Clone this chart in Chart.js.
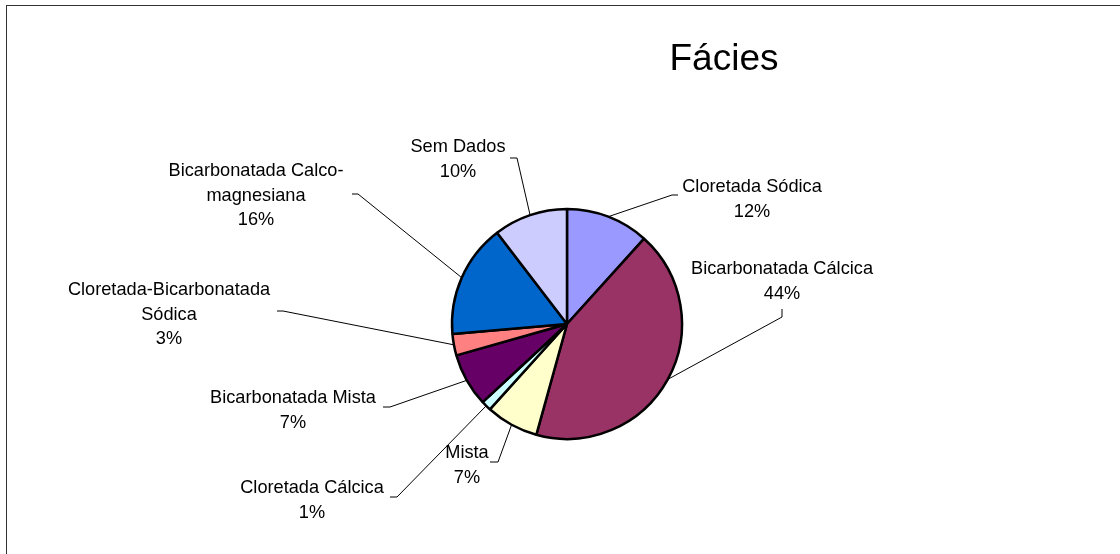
<!DOCTYPE html>
<html>
<head>
<meta charset="utf-8">
<script src="https://cdn.jsdelivr.net/npm/chart.js"></script>
<style>
  body { margin: 0; background: #fff; }
  #wrap { width: 1120px; height: 554px; position: relative; }
</style>
</head>
<body>
<div id="wrap"><canvas id="faciesCanvas"></canvas></div>
<script>
var categories = ['Cloretada Sódica', 'Bicarbonatada Cálcica', 'Mista', 'Cloretada Cálcica',
  'Bicarbonatada Mista', ['Cloretada-Bicarbonatada', 'Sódica'], ['Bicarbonatada Calco-', 'magnesiana'], 'Sem Dados'];
var shares = [11.7, 42.6, 7.4, 1.4, 7.5, 3.0, 16.0, 10.4];
var pctLabels = ['12%', '44%', '7%', '1%', '7%', '3%', '16%', '10%'];
var colors = ['#9999FF', '#993366', '#FFFFCC', '#CCFFFF', '#660066', '#FF8080', '#0066CC', '#CCCCFF'];

// where each label sits and where its leader line bends (page pixels)
var labelPos = [
  { cx: 752, cy: 187, elbow: [672, 195], end: [678, 195] },
  { cx: 782, cy: 269, elbow: [782, 317], end: [782, 309] },
  { cx: 467, cy: 453, elbow: [498, 462], end: [490, 462] },
  { cx: 312, cy: 488, elbow: [397, 497], end: [390, 497] },
  { cx: 293, cy: 398, elbow: [390, 407], end: [383, 407] },
  { cx: 169, cy: 290, elbow: [283, 311], end: [277, 311] },
  { cx: 256, cy: 171, elbow: [358, 194], end: [352, 194] },
  { cx: 458, cy: 147, elbow: [517, 158], end: [510, 158] }
];

var labelFont = '18.2px "Liberation Sans", Arial, sans-serif';
var lineGap = 24.5;

var faciesLabels = {
  id: 'faciesLabels',
  afterDraw: function(chart) {
    var ctx = chart.ctx;
    var arcs = chart.getDatasetMeta(0).data;
    ctx.save();

    // outer frame
    ctx.strokeStyle = '#333';
    ctx.lineWidth = 1;
    ctx.strokeRect(6.5, 5.5, 1200, 700);

    // title
    ctx.fillStyle = '#000';
    ctx.font = '37px "Liberation Sans", Arial, sans-serif';
    ctx.textAlign = 'center';
    ctx.textBaseline = 'alphabetic';
    ctx.fillText('Fácies', 724, 70);

    ctx.font = labelFont;
    ctx.textBaseline = 'middle';
    arcs.forEach(function(arc, i) {
      var p = labelPos[i];
      var mid = (arc.startAngle + arc.endAngle) / 2;
      var sx = arc.x + Math.cos(mid) * arc.outerRadius;
      var sy = arc.y + Math.sin(mid) * arc.outerRadius;

      ctx.strokeStyle = '#000';
      ctx.lineWidth = 1;
      ctx.beginPath();
      ctx.moveTo(sx, sy);
      ctx.lineTo(p.elbow[0], p.elbow[1]);
      ctx.lineTo(p.end[0], p.end[1]);
      ctx.stroke();

      var lines = [].concat(categories[i]);
      lines.push(pctLabels[i]);
      lines.forEach(function(t, k) {
        ctx.fillText(t, p.cx, p.cy + k * lineGap);
      });
    });
    ctx.restore();
  }
};

new Chart(document.getElementById('faciesCanvas'), {
  type: 'pie',
  data: {
    labels: categories,
    datasets: [{
      data: shares,
      backgroundColor: colors,
      borderColor: '#000',
      borderWidth: 2.5,
      radius: 115
    }]
  },
  options: {
    responsive: true,
    maintainAspectRatio: false,
    animation: false,
    layout: { padding: { top: 94, left: 14, right: 0, bottom: 0 } },
    plugins: {
      legend: { display: false },
      title: { display: false },
      tooltip: { enabled: false }
    }
  },
  plugins: [faciesLabels]
});
</script>
</body>
</html>
